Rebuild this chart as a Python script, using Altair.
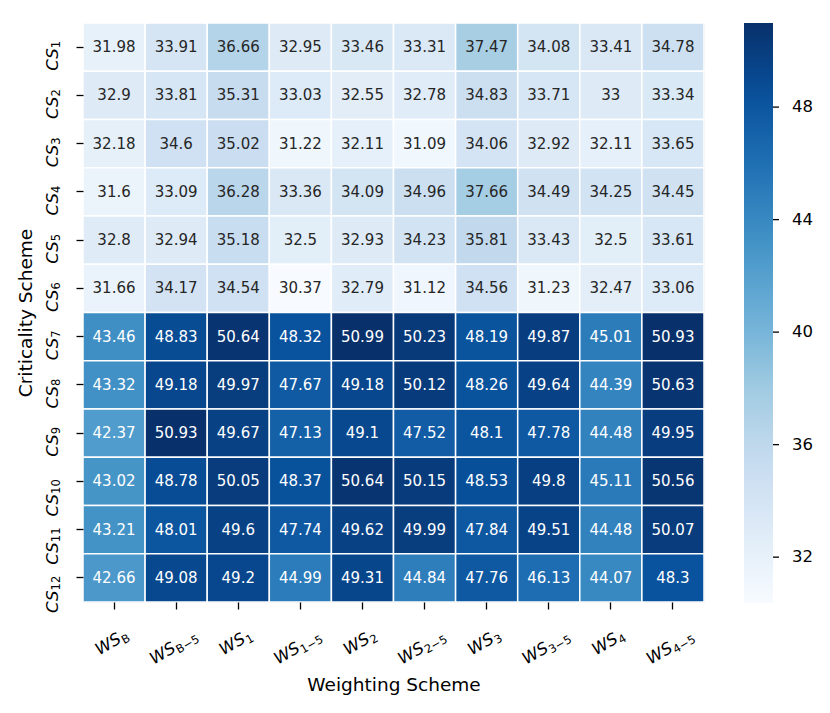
import altair as alt
import pandas as pd

F = "DejaVu Sans"

# Column (weighting scheme) keys and their subscript texts
ws_keys = ["WS_B", "WS_B-5", "WS_1", "WS_1-5", "WS_2", "WS_2-5", "WS_3", "WS_3-5", "WS_4", "WS_4-5"]
ws_subs = ["B", "B\u22125", "1", "1\u22125", "2", "2\u22125", "3", "3\u22125", "4", "4\u22125"]

# Row (criticality scheme) keys and subscripts
cs_keys = ["CS_%d" % i for i in range(1, 13)]
cs_subs = [str(i) for i in range(1, 13)]

row_cs1 = [31.98, 33.91, 36.66, 32.95, 33.46, 33.31, 37.47, 34.08, 33.41, 34.78]
row_cs2 = [32.9, 33.81, 35.31, 33.03, 32.55, 32.78, 34.83, 33.71, 33, 33.34]
row_cs3 = [32.18, 34.6, 35.02, 31.22, 32.11, 31.09, 34.06, 32.92, 32.11, 33.65]
row_cs4 = [31.6, 33.09, 36.28, 33.36, 34.09, 34.96, 37.66, 34.49, 34.25, 34.45]
row_cs5 = [32.8, 32.94, 35.18, 32.5, 32.93, 34.23, 35.81, 33.43, 32.5, 33.61]
row_cs6 = [31.66, 34.17, 34.54, 30.37, 32.79, 31.12, 34.56, 31.23, 32.47, 33.06]
row_cs7 = [43.46, 48.83, 50.64, 48.32, 50.99, 50.23, 48.19, 49.87, 45.01, 50.93]
row_cs8 = [43.32, 49.18, 49.97, 47.67, 49.18, 50.12, 48.26, 49.64, 44.39, 50.63]
row_cs9 = [42.37, 50.93, 49.67, 47.13, 49.1, 47.52, 48.1, 47.78, 44.48, 49.95]
row_cs10 = [43.02, 48.78, 50.05, 48.37, 50.64, 50.15, 48.53, 49.8, 45.11, 50.56]
row_cs11 = [43.21, 48.01, 49.6, 47.74, 49.62, 49.99, 47.84, 49.51, 44.48, 50.07]
row_cs12 = [42.66, 49.08, 49.2, 44.99, 49.31, 44.84, 47.76, 46.13, 44.07, 48.3]

colorbar_ticks = [32, 36, 40, 44, 48]

rows = [row_cs1, row_cs2, row_cs3, row_cs4, row_cs5, row_cs6,
        row_cs7, row_cs8, row_cs9, row_cs10, row_cs11, row_cs12]

recs = []
for cs, row in zip(cs_keys, rows):
    for ws, v in zip(ws_keys, row):
        recs.append({"cs": cs, "ws": ws, "value": v})
df = pd.DataFrame(recs)

vmin = float(df["value"].min())
vmax = float(df["value"].max())
blues = ["#f7fbff", "#deebf7", "#c6dbef", "#9ecae1", "#6baed6",
         "#4292c6", "#2171b5", "#08519c", "#08306b"]
stops = [vmin + i * (vmax - vmin) / 8 for i in range(9)]

W, H = 621, 579
LEG_OFF, LEG_THICK, LEG_LEN = 40, 29, 580

xs = alt.Scale(domain=ws_keys, paddingInner=0, paddingOuter=0)
ys = alt.Scale(domain=cs_keys, paddingInner=0, paddingOuter=0)

heat = alt.Chart(df).mark_rect(stroke="white", strokeWidth=1.5).encode(
    x=alt.X("ws:N", scale=xs, sort=ws_keys, axis=alt.Axis(
        labels=False, domain=False, grid=False, ticks=True, tickSize=7, tickWidth=1.3,
        tickColor="black", title="Weighting Scheme", titleFont=F, titleFontSize=18.5,
        titleFontWeight="normal", titleColor="black", titleX=W / 2, titleY=88,
        titleAlign="center", titleBaseline="alphabetic")),
    y=alt.Y("cs:N", scale=ys, sort=cs_keys, axis=alt.Axis(
        labels=False, domain=False, grid=False, ticks=True, tickSize=7, tickWidth=1.3,
        tickColor="black", title="Criticality Scheme", titleFont=F, titleFontSize=18.5,
        titleFontWeight="normal", titleColor="black", titleAngle=270, titleX=-52,
        titleY=H / 2, titleAlign="center", titleBaseline="alphabetic")),
    color=alt.Color("value:Q",
                    scale=alt.Scale(domain=stops, range=blues, interpolate="rgb"),
                    legend=alt.Legend(title=None, orient="right", offset=LEG_OFF, padding=0,
                                      direction="vertical", gradientLength=LEG_LEN,
                                      gradientThickness=LEG_THICK, gradientStrokeWidth=0,
                                      values=colorbar_ticks, labelFont=F, labelFontSize=16.5,
                                      labelColor="black", labelOffset=19, labelOverlap=False)),
)

annot = alt.Chart(df).mark_text(font=F, fontSize=15, baseline="middle", align="center").encode(
    x=alt.X("ws:N", scale=xs, sort=ws_keys),
    y=alt.Y("cs:N", scale=ys, sort=cs_keys),
    text=alt.Text("value:Q", format="~g"),
    color=alt.condition(alt.datum.value > 40, alt.value("white"), alt.value("#262626")),
)

# x tick labels: "WS" + subscript, rotated 30 degrees
xl = pd.DataFrame({"ws": ws_keys, "sub": ws_subs})
xl_short = xl[~xl["sub"].str.contains("\u2212")]
xl_long = xl[xl["sub"].str.contains("\u2212")]

layers = [heat, annot]
for part, d, yy in [(xl_short, 9.6, 623.8), (xl_long, 0.9, 628.8)]:
    layers.append(alt.Chart(part).mark_text(
        text="WS", angle=330, align="right", baseline="alphabetic", dx=d,
        font=F, fontSize=16.5, fontStyle="italic", color="black").encode(
        x=alt.X("ws:N", scale=xs, sort=ws_keys), y=alt.value(yy)))
    layers.append(alt.Chart(part).mark_text(
        angle=330, align="left", baseline="alphabetic", dx=d + 0.5, dy=3,
        font=F, fontSize=11.5, color="black").encode(
        x=alt.X("ws:N", scale=xs, sort=ws_keys), y=alt.value(yy), text="sub:N"))

# y tick labels: "CS" + subscript, rotated 90 degrees
yl = pd.DataFrame({"cs": cs_keys, "sub": cs_subs})
yl_one = yl[yl["sub"].str.len() == 1]
yl_two = yl[yl["sub"].str.len() == 2]
for part, s in [(yl_one, 23.5), (yl_two, 35.0)]:
    layers.append(alt.Chart(part).mark_text(
        text="CS", angle=270, align="left", baseline="alphabetic", dx=-s,
        font=F, fontSize=16.5, fontStyle="italic", color="black").encode(
        y=alt.Y("cs:N", scale=ys, sort=cs_keys), x=alt.value(-25.5)))
    layers.append(alt.Chart(part).mark_text(
        angle=270, align="left", baseline="alphabetic", dx=-s + 22.5, dy=2.5,
        font=F, fontSize=11.5, color="black").encode(
        y=alt.Y("cs:N", scale=ys, sort=cs_keys), x=alt.value(-25.5), text="sub:N"))

main = alt.layer(*layers)

# small tick marks beside the colour bar
cb = pd.DataFrame({"t": colorbar_ticks})
cb_ticks = alt.Chart(cb).mark_rule(color="black", strokeWidth=1.3).encode(
    y=alt.Y("t:Q", scale=alt.Scale(domain=[vmin, vmax], range=[LEG_LEN, 0]), axis=None),
    x=alt.value(W + LEG_OFF + LEG_THICK),
    x2=alt.value(W + LEG_OFF + LEG_THICK + 6),
)

chart = alt.layer(main, cb_ticks).resolve_scale(y="independent").properties(
    width=W, height=H,
    autosize=alt.AutoSizeParams(type="none"),
    padding={"left": 75, "top": 15, "right": 118, "bottom": 95},
).configure_view(strokeWidth=0).configure(background="white")

chart.save("out.html", embed_options={"renderer": "svg", "actions": False})
